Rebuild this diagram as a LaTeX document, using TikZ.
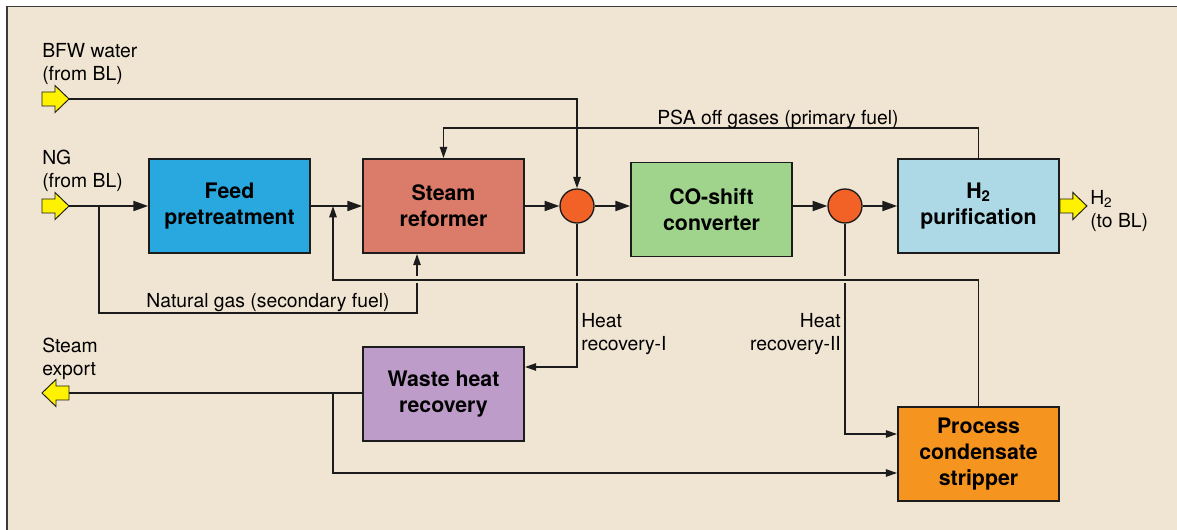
\documentclass[tikz,border=0pt]{standalone}
\usepackage{fontspec}
\setmainfont{TeX Gyre Heros}
\usetikzlibrary{arrows.meta,calc}

\definecolor{bgc}{HTML}{F0E4D2}
\definecolor{linec}{HTML}{1C1C1C}
\definecolor{framec}{HTML}{3C3C3C}
\definecolor{feedc}{HTML}{29A8E0}
\definecolor{refc}{HTML}{DB7C6A}
\definecolor{coc}{HTML}{A0D48C}
\definecolor{purc}{HTML}{ADD9E6}
\definecolor{wastec}{HTML}{BD9CC9}
\definecolor{stripc}{HTML}{F69420}
\definecolor{mixc}{HTML}{F26125}
\definecolor{yelc}{HTML}{FFF200}

\newcommand\boxfont{\fontsize{16}{19.5}\selectfont\bfseries}
\newcommand\lblfont{\fontsize{14.5}{17.25}\selectfont}

\tikzset{
  yarrow/.pic={
    \draw[fill=yelc, draw=linec, line width=0.7pt, line join=miter]
      (0,-7) -- (13,-7) -- (13,-13.5) -- (27,0) -- (13,13.5) -- (13,7) -- (0,7) -- cycle;
  }
}

\begin{document}
\begin{tikzpicture}[x=0.75pt,y=-0.75pt,
  flow/.style={line width=1.3pt, draw=linec},
  big/.style={flow, -{Triangle[length=11pt,width=7.5pt]}},
  small/.style={flow, -{Triangle[length=8.5pt,width=5.5pt]}},
  unit/.style={draw=linec, line width=1.3pt, minimum width=120.75pt,
    minimum height=70.5pt, inner sep=0pt, align=center, font=\boxfont, text=black},
  mixer/.style={circle, draw=linec, line width=1pt, fill=mixc,
    minimum size=25.5pt, inner sep=0pt},
  lbl/.style={font=\lblfont, inner sep=0pt, text=black},
]
\useasboundingbox (0,0) rectangle (1177,530);

% page background and frame
\fill[white] (0,0) rectangle (1177,530);
\fill[bgc] (7,6.5) rectangle (1177,530);
\draw[framec, line width=1.2pt] (7,530) -- (7,6.5) -- (1177,6.5);

% process units
\node[unit, fill=feedc]  (feed)  at (229.5,206)   {Feed\\pretreatment};
\node[unit, fill=refc]   (ref)   at (443.5,206)   {Steam\\reformer};
\node[unit, fill=coc]    (co)    at (711.5,209.5) {CO-shift\\converter};
\node[unit, fill=purc]   (h2)    at (978.5,206)   {H\textsubscript{2}\\purification};
\node[unit, fill=wastec] (waste) at (443.5,394)   {Waste heat\\recovery};
\node[unit, fill=stripc] (strip) at (978.5,454)   {Process\\condensate\\stripper};

% mixing points
\node[mixer] (c1) at (577,206) {};
\node[mixer] (c2) at (845,206) {};

% battery-limit arrows
\coordinate (bfwtip) at (69,99);
\coordinate (ngtip)  at (69,206);
\coordinate (sxtail) at (69,393);
\pic at (42,99) {yarrow};
\pic at (42,206) {yarrow};
\pic[xscale=-1] at (69,393) {yarrow};
\pic at (h2.east) {yarrow};

% main process line
\draw[big] (ngtip) -- (ngtip -| feed.west);
\draw[big] (feed.east) -- (ref.west);
\draw[big] (ref.east) -- (c1.west);
\draw[big] (c1.east) -- (c1.east -| co.west);
\draw[big] (c1.east -| co.east) -- (c2.west);
\draw[big] (c2.east) -- (h2.west);

% boiler feed water to first mixing point
\draw[small] (bfwtip) -| (c1.north);

% PSA off gases back to the reformer
\draw[small] (h2.north) -- ++(0,-30) -| (ref.north);

% natural gas as secondary fuel
\coordinate (j1)  at (99,206);
\coordinate (ngc) at (417,313);
\draw[small] (j1) |- (ngc) -- (ngc |- ref.south);

% heat recovery branches
\coordinate (hr1) at (577,367);
\coordinate (hr2) at (845,434);
\draw[small] (c1.south) -- (hr1) -- (hr1 -| waste.east);
\draw[small] (c2.south) -- (hr2) -- (hr2 -| strip.west);

% condensate recycle, with gaps in the lines it crosses
\coordinate (rc) at (979,280);
\coordinate (jr) at (333,206);
\foreach \p in {c1,c2,ngc}
  \fill[bgc] ($(\p |- rc)+(-3,-3.5)$) rectangle ($(\p |- rc)+(3,3.5)$);
\draw[small] (strip.north) -- (strip.north |- rc) -- (jr |- rc) -- (jr);

% steam export and feed to the stripper
\coordinate (j3) at (333,393);
\coordinate (sb) at (333,473);
\draw[flow] (sxtail -| waste.west) -- (sxtail);
\draw[small] (j3) -- (sb) -- (sb -| strip.west);

% labels
\node[lbl, anchor=west, align=left] (lbfw) at (42,64) {BFW water\\(from BL)};
\node[lbl, anchor=west, align=left] (lng)  at (42,171) {NG\\(from BL)};
\node[lbl, anchor=west, align=left] (lsx)  at (42,358.5) {Steam\\export};
\node[lbl, anchor=west, align=left] (lh2)  at (1090,211) {H\textsubscript{2}\\(to BL)};
\node[lbl] (lpsa) at (778,119) {PSA off gases (primary fuel)};
\node[lbl] (lsec) at (268,303) {Natural gas (secondary fuel)};
\node[lbl, anchor=west, align=left]  (lhr1) at (581,334.5) {Heat\\recovery-I};
\node[lbl, anchor=east, align=right] (lhr2) at (841,334.5) {Heat\\recovery-II};
\end{tikzpicture}
\end{document}
